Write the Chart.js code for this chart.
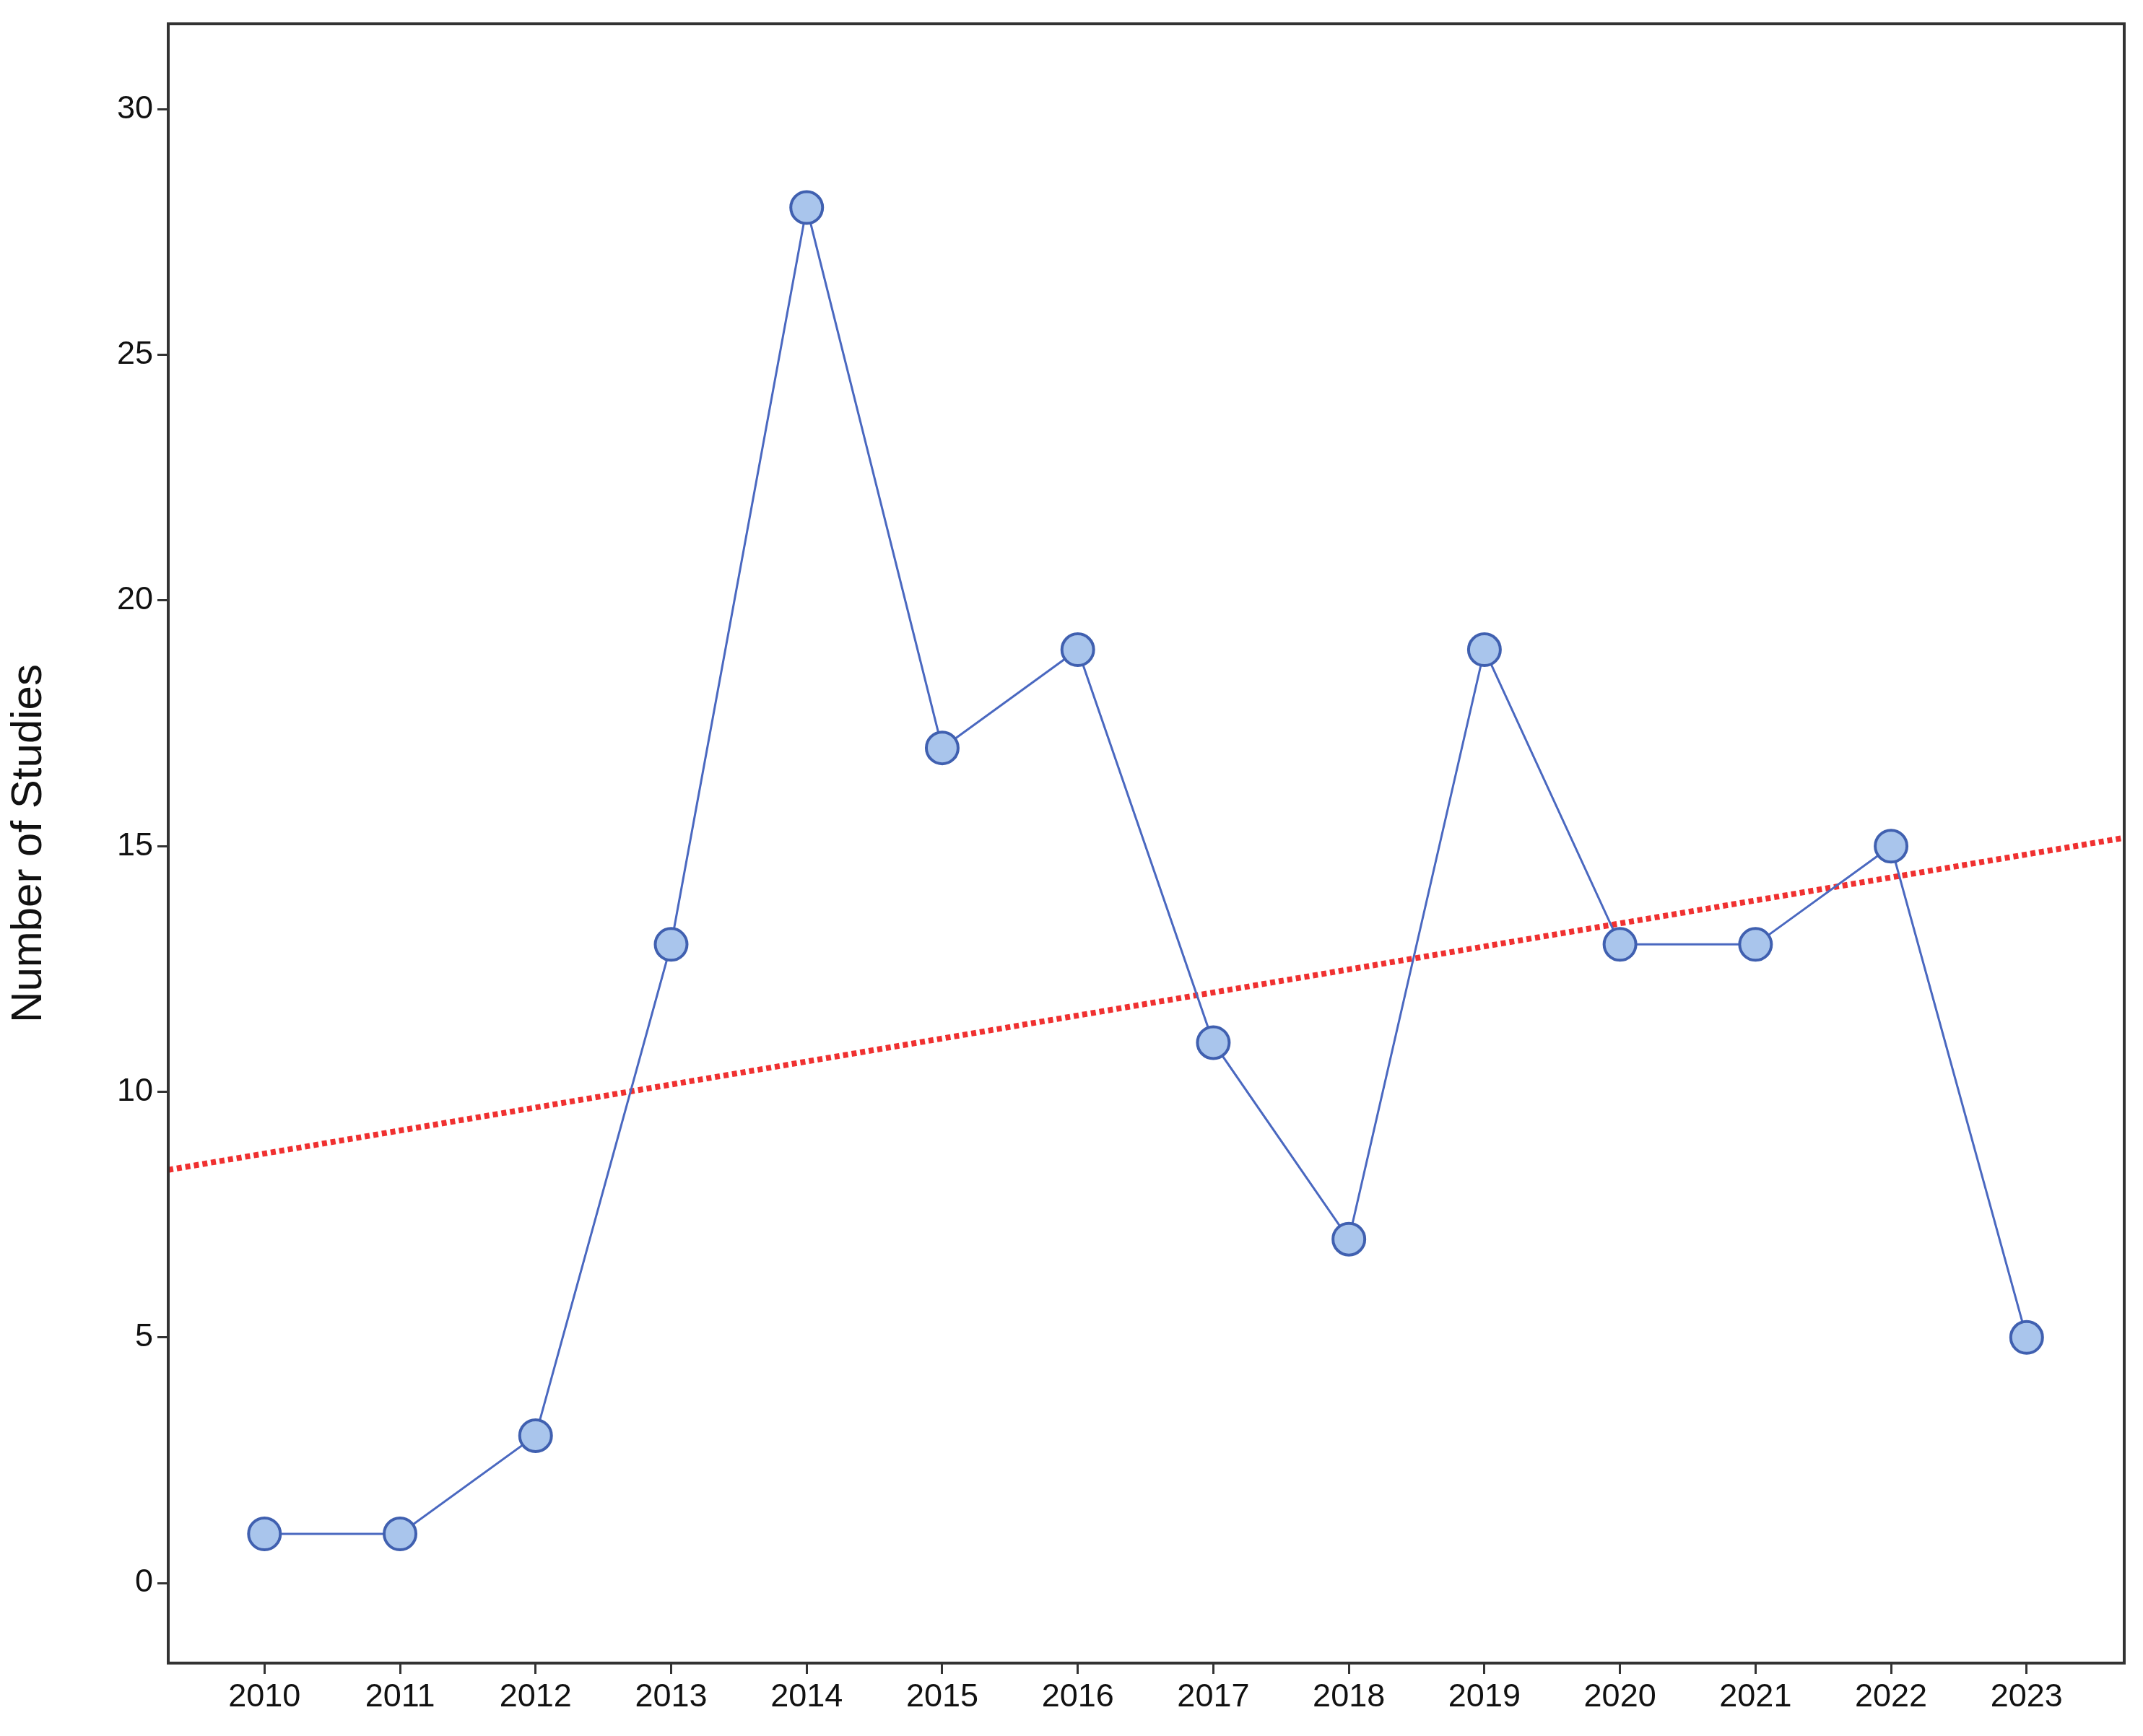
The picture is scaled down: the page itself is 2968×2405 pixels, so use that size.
<!DOCTYPE html>
<html><head><meta charset="utf-8">
<script src="https://cdn.jsdelivr.net/npm/chart.js@4"></script>
<style>html,body{margin:0;padding:0;background:#fff}#w{width:2968px;height:2405px}</style>
</head><body><div id="w"><canvas id="c"></canvas></div>
<script>
const years=[2010,2011,2012,2013,2014,2015,2016,2017,2018,2019,2020,2021,2022,2023];
const studies=[1,1,3,13,28,17,19,11,7,19,13,13,15,5];
const trendX=[2009.29,2023.72];
const trendY=[8.41,15.17];
const yTicks=[0,5,10,15,20,25,30];
const F='"Liberation Sans", Arial, sans-serif';
const box={id:'box',afterDraw(c){const a=c.chartArea,x=c.ctx;x.save();x.strokeStyle='#333';x.lineWidth=4;x.strokeRect(a.left,a.top,a.right-a.left,a.bottom-a.top);x.restore();}};
new Chart(document.getElementById('c'),{
type:'scatter',
data:{datasets:[
{data:trendX.map((v,i)=>({x:v,y:trendY[i]})),showLine:true,borderColor:'#f03030',borderWidth:8,borderDash:[7,5],pointRadius:0,order:2},
{data:years.map((v,i)=>({x:v,y:studies[i]})),showLine:true,borderColor:'#4a68c0',borderWidth:3,pointRadius:22,pointBackgroundColor:'#a9c5ec',pointBorderColor:'#4060b0',pointBorderWidth:4,order:1}
]},
plugins:[box],
options:{responsive:true,maintainAspectRatio:false,animation:false,
layout:{padding:{top:29,right:23,left:0,bottom:0}},
plugins:{legend:{display:false},tooltip:{enabled:false}},
scales:{
x:{type:'linear',min:2009.29,max:2023.72,grid:{display:true,drawOnChartArea:false,drawTicks:true,tickLength:15,tickWidth:3,tickColor:'#333',color:'#333'},border:{display:false},
afterBuildTicks(s){s.ticks=years.map(v=>({value:v}));},
ticks:{font:{family:F,size:45},color:'#111',padding:6,callback:v=>String(v)},
afterFit(s){s.height=101;}},
y:{min:-1.63,max:31.74,grid:{display:true,drawOnChartArea:false,drawTicks:true,tickLength:15,tickWidth:3,tickColor:'#333',color:'#333'},border:{display:false},
afterBuildTicks(s){s.ticks=yTicks.map(v=>({value:v}));},
ticks:{font:{family:F,size:45},color:'#111',padding:6},
title:{display:true,text:'Number of Studies',font:{family:F,size:60},color:'#111',padding:{bottom:20}},
afterFit(s){s.width=233;}}
}}});
</script></body></html>
